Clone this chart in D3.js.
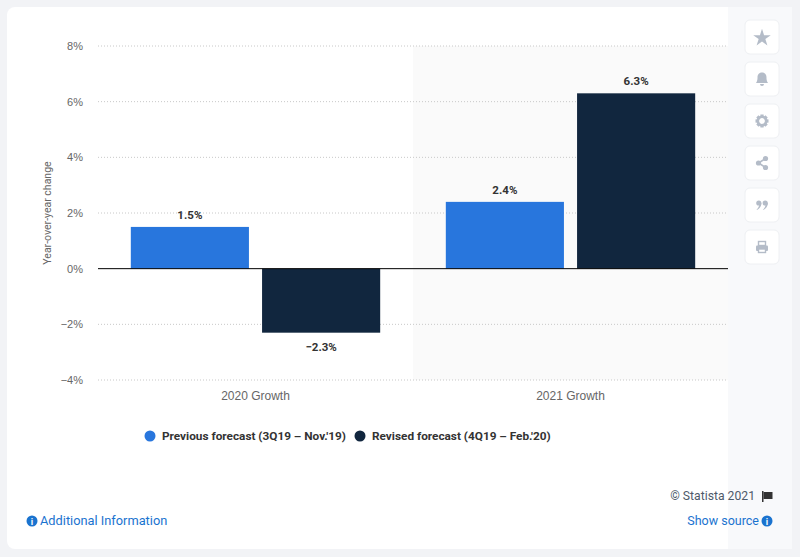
<!DOCTYPE html>
<html>
<head>
<meta charset="utf-8">
<script src="https://cdn.jsdelivr.net/npm/d3@7"></script>
<style>
  html, body { margin: 0; padding: 0; background: #f2f3f6; }
  svg { display: block; font-family: Roboto, "Open Sans", sans-serif; }
</style>
</head>
<body>
<svg id="chart" width="800" height="557"></svg>
<script>
// chart data
const categories = ["2020 Growth", "2021 Growth"];
const seriesNames = ["Previous forecast (3Q19 \u2013 Nov.'19)", "Revised forecast (4Q19 \u2013 Feb.'20)"];
const previousForecast = [1.5, 2.4];
const revisedForecast = [-2.3, 6.3];
const yTicks = [-4, -2, 0, 2, 4, 6, 8];
const colors = ["#2876dd", "#11263e"];

const svg = d3.select("#chart");

// card + sidebar
svg.append("rect").attr("x", 7).attr("y", 7).attr("width", 785).attr("height", 542)
  .attr("rx", 8).attr("fill", "#fff");
svg.append("rect").attr("x", 728).attr("y", 7).attr("width", 64).attr("height", 542)
  .attr("fill", "#f8f9fb");

const margin = {left: 98, right: 728, top: 46, bottom: 380};

const x0 = d3.scaleBand().domain(categories).range([margin.left, margin.right]).padding(0);
const x1 = d3.scaleBand().domain([0, 1]).range([0, x0.bandwidth()])
  .paddingInner(0.1).paddingOuter(0.25);
const y = d3.scaleLinear().domain([-4, 8]).range([margin.bottom, margin.top]);

// shaded second group
svg.append("rect")
  .attr("x", x0(categories[1])).attr("y", y(8))
  .attr("width", x0.bandwidth()).attr("height", y(-4) - y(8))
  .attr("fill", "#fafafa");

// gridlines
svg.append("g").selectAll("line").data(yTicks.filter(d => d !== 0)).join("line")
  .attr("x1", margin.left).attr("x2", margin.right)
  .attr("y1", d => y(d)).attr("y2", d => y(d))
  .attr("stroke", "#c8c8c8").attr("stroke-dasharray", "1,2");

// y axis labels
const yAxis = d3.axisLeft(y).tickValues(yTicks).tickSize(0).tickPadding(0)
  .tickFormat(d => (d < 0 ? "\u2212" + Math.abs(d) : d) + "%");
svg.append("g").attr("transform", `translate(83,0)`).call(yAxis)
  .call(g => g.select(".domain").remove())
  .selectAll("text").attr("fill", "#666").style("font-size", "11px");

svg.append("text")
  .attr("transform", `translate(51,${(y(8) + y(-4)) / 2}) rotate(-90)`)
  .attr("text-anchor", "middle").attr("fill", "#666").style("font-size", "10.5px")
  .text("Year-over-year change");

// bars
const rows = categories.map((c, i) => ({cat: c, vals: [previousForecast[i], revisedForecast[i]]}));
const groups = svg.append("g").selectAll("g").data(rows).join("g")
  .attr("transform", d => `translate(${x0(d.cat)},0)`);

groups.selectAll("rect").data(d => d.vals.map((v, k) => ({v, k}))).join("rect")
  .attr("x", d => x1(d.k)).attr("width", x1.bandwidth())
  .attr("y", d => y(Math.max(0, d.v)))
  .attr("height", d => Math.abs(y(d.v) - y(0)))
  .attr("fill", d => colors[d.k]);

groups.selectAll("text").data(d => d.vals.map((v, k) => ({v, k}))).join("text")
  .attr("x", d => x1(d.k) + x1.bandwidth() / 2)
  .attr("y", d => d.v >= 0 ? y(d.v) - 8 : y(d.v) + 18)
  .attr("text-anchor", "middle").attr("fill", "#333")
  .style("font-size", "11.5px").style("font-weight", "bold")
  .text(d => (d.v < 0 ? "\u2212" + Math.abs(d.v) : d.v) + "%");

// zero line
svg.append("line").attr("x1", margin.left).attr("x2", margin.right)
  .attr("y1", y(0)).attr("y2", y(0)).attr("stroke", "#000").attr("stroke-width", 1);

// x labels
const xAxis = d3.axisBottom(x0).tickSize(0).tickPadding(0);
svg.append("g").attr("transform", `translate(0,${y(-4) + 11})`).call(xAxis)
  .call(g => g.select(".domain").remove())
  .selectAll("text").attr("fill", "#666").style("font-size", "12px");

// legend
const legendX = [150, 360];
const legend = svg.append("g").selectAll("g").data(seriesNames).join("g")
  .attr("transform", (d, i) => `translate(${legendX[i]},436)`);
legend.append("circle").attr("r", 5.5).attr("fill", (d, i) => colors[i]);
legend.append("text").attr("x", 12).attr("dy", "0.35em")
  .attr("fill", "#333").style("font-size", "11.8px").style("font-weight", "bold")
  .text(d => d);

// footer
svg.append("text").attr("x", 755).attr("y", 500).attr("text-anchor", "end")
  .attr("fill", "#4e5a6a").style("font-size", "12.2px").text("\u00a9 Statista 2021");
svg.append("rect").attr("x", 762).attr("y", 491).attr("width", 1.5).attr("height", 11).attr("fill", "#333");
svg.append("path").attr("d", "M763.5,492 h9 v7 h-9 z").attr("fill", "#333");

svg.append("text").attr("x", 759).attr("y", 525).attr("text-anchor", "end")
  .attr("fill", "#1a73cf").style("font-size", "12.5px").text("Show source");
function info(cx, cy) {
  svg.append("circle").attr("cx", cx).attr("cy", cy).attr("r", 5.5).attr("fill", "#1a73cf");
  svg.append("text").attr("x", cx).attr("y", cy + 3.5).attr("text-anchor", "middle")
    .attr("fill", "#fff").style("font-size", "9px").style("font-weight", "bold").text("i");
}
info(767, 521);
info(32, 521);
svg.append("text").attr("x", 40).attr("y", 525)
  .attr("fill", "#1a73cf").style("font-size", "12.8px").text("Additional Information");

// sidebar buttons
const icons = ["star", "bell", "gear", "share", "quote", "print"];
const btn = svg.append("g").selectAll("g").data(icons).join("g")
  .attr("transform", (d, i) => `translate(745,${20 + i * 42})`);
btn.append("rect").attr("width", 34).attr("height", 34).attr("rx", 5)
  .attr("fill", "#fff").attr("stroke", "#eef0f3");
const ic = "#b4bcc8";
btn.each(function(d) {
  const g = d3.select(this).append("g").attr("transform", "translate(17,17)");
  if (d === "star") g.append("path").attr("d", d3.symbol(d3.symbolStar, 95)()).attr("fill", ic)
    .attr("transform", "translate(0,1)");
  if (d === "bell") g.append("path")
    .attr("d", "M-6,4 C-4.5,2 -4.5,0 -4.5,-1.5 C-4.5,-5 -2.5,-6.5 0,-6.5 C2.5,-6.5 4.5,-5 4.5,-1.5 C4.5,0 4.5,2 6,4 Z M-2,5 h4 a2,2 0 0 1 -4,0 Z")
    .attr("fill", ic);
  if (d === "gear") {
    for (let a = 0; a < 8; a++) {
      g.append("rect").attr("x", -1.6).attr("y", -6.5).attr("width", 3.2).attr("height", 3)
        .attr("fill", ic).attr("transform", `rotate(${a * 45})`);
    }
    g.append("circle").attr("r", 4.2).attr("fill", "none").attr("stroke", ic).attr("stroke-width", 2.6);
  }
  if (d === "share") {
    g.append("path").attr("d", "M3.5,-4.5 L-3.5,0 L3.5,4.5").attr("stroke", ic).attr("stroke-width", 1.6).attr("fill", "none");
    [[3.5, -4.5], [-3.5, 0], [3.5, 4.5]].forEach(p => g.append("circle").attr("cx", p[0]).attr("cy", p[1]).attr("r", 2.6).attr("fill", ic));
  }
  if (d === "quote") {
    [-3.2, 3.2].forEach(cx => {
      g.append("circle").attr("cx", cx).attr("cy", -2).attr("r", 2.6).attr("fill", ic);
      g.append("path").attr("d", `M${cx + 0.6},-2 h2 C${cx + 2.6},2 ${cx},4.5 ${cx - 2.4},5 C${cx - 0.6},3 ${cx + 0.6},1 ${cx + 0.6},-2 Z`).attr("fill", ic);
    });
  }
  if (d === "print") {
    g.append("rect").attr("x", -3.5).attr("y", -5.5).attr("width", 7).attr("height", 4).attr("fill", "none").attr("stroke", ic).attr("stroke-width", 1.4);
    g.append("rect").attr("x", -6).attr("y", -1.5).attr("width", 12).attr("height", 5.5).attr("rx", 1).attr("fill", ic);
    g.append("rect").attr("x", -3.5).attr("y", 2).attr("width", 7).attr("height", 3.5).attr("fill", "#fff").attr("stroke", ic).attr("stroke-width", 1.4);
  }
});
</script>
</body>
</html>
